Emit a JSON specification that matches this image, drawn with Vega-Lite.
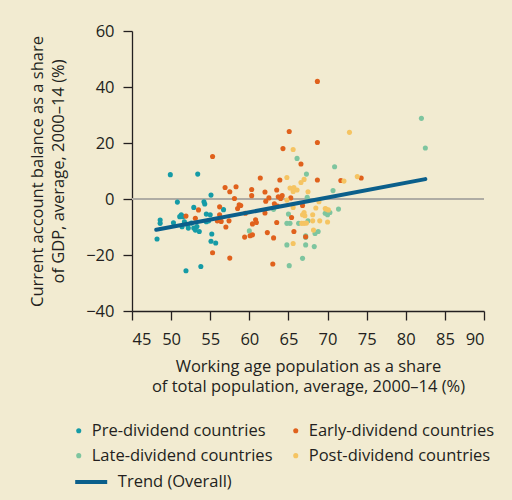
{
  "$schema": "https://vega.github.io/schema/vega-lite/v6.json",
  "width": 352,
  "height": 280,
  "autosize": {"type": "none"},
  "padding": {"left": 132, "top": 31, "right": 28, "bottom": 189},
  "background": "#f2ebd1",
  "config": {
    "view": {"stroke": null},
    "font": "Open Sans",
    "axis": {
      "domainColor": "#231f20", "tickColor": "#231f20", "domainWidth": 1.3, "tickWidth": 1.3,
      "tickSize": 9, "labelFontSize": 16.5, "labelColor": "#231f20", "titleFontSize": 16.5,
      "titleFontWeight": "normal", "titleColor": "#231f20", "grid": false, "titleLineHeight": 20.5,
      "labelOverlap": false
    },
    "legend": {"labelFontSize": 16.5, "labelColor": "#231f20", "padding": 0, "titlePadding": 0, "labelLimit": 0}
  },
  "datasets": {
    "points": [
      {"x": 49.9, "y": 8.7, "group": "Pre-dividend countries"},
      {"x": 53.4, "y": 8.9, "group": "Pre-dividend countries"},
      {"x": 50.8, "y": -1.1, "group": "Pre-dividend countries"},
      {"x": 55.1, "y": 1.4, "group": "Pre-dividend countries"},
      {"x": 54.2, "y": -1.0, "group": "Pre-dividend countries"},
      {"x": 54.3, "y": -1.8, "group": "Pre-dividend countries"},
      {"x": 52.9, "y": -3.0, "group": "Pre-dividend countries"},
      {"x": 48.6, "y": -7.5, "group": "Pre-dividend countries"},
      {"x": 48.6, "y": -8.7, "group": "Pre-dividend countries"},
      {"x": 48.2, "y": -14.3, "group": "Pre-dividend countries"},
      {"x": 50.3, "y": -8.5, "group": "Pre-dividend countries"},
      {"x": 51.3, "y": -5.6, "group": "Pre-dividend countries"},
      {"x": 51.5, "y": -6.3, "group": "Pre-dividend countries"},
      {"x": 51.1, "y": -6.3, "group": "Pre-dividend countries"},
      {"x": 51.7, "y": -8.1, "group": "Pre-dividend countries"},
      {"x": 52.1, "y": -9.2, "group": "Pre-dividend countries"},
      {"x": 52.2, "y": -10.4, "group": "Pre-dividend countries"},
      {"x": 51.4, "y": -9.9, "group": "Pre-dividend countries"},
      {"x": 52.6, "y": -8.6, "group": "Pre-dividend countries"},
      {"x": 52.9, "y": -10.4, "group": "Pre-dividend countries"},
      {"x": 53.1, "y": -11.1, "group": "Pre-dividend countries"},
      {"x": 53.6, "y": -11.6, "group": "Pre-dividend countries"},
      {"x": 53.3, "y": -9.8, "group": "Pre-dividend countries"},
      {"x": 54.5, "y": -5.4, "group": "Pre-dividend countries"},
      {"x": 55.0, "y": -5.6, "group": "Pre-dividend countries"},
      {"x": 54.8, "y": -7.8, "group": "Pre-dividend countries"},
      {"x": 54.5, "y": -8.1, "group": "Pre-dividend countries"},
      {"x": 55.2, "y": -12.5, "group": "Pre-dividend countries"},
      {"x": 55.1, "y": -15.1, "group": "Pre-dividend countries"},
      {"x": 55.7, "y": -15.7, "group": "Pre-dividend countries"},
      {"x": 51.9, "y": -25.6, "group": "Pre-dividend countries"},
      {"x": 53.8, "y": -24.1, "group": "Pre-dividend countries"},
      {"x": 56.7, "y": -3.8, "group": "Pre-dividend countries"},
      {"x": 60.0, "y": -11.4, "group": "Late-dividend countries"},
      {"x": 63.1, "y": -3.7, "group": "Late-dividend countries"},
      {"x": 66.1, "y": 14.5, "group": "Late-dividend countries"},
      {"x": 67.3, "y": 8.9, "group": "Late-dividend countries"},
      {"x": 70.9, "y": 11.5, "group": "Late-dividend countries"},
      {"x": 70.7, "y": 3.0, "group": "Late-dividend countries"},
      {"x": 71.4, "y": -3.6, "group": "Late-dividend countries"},
      {"x": 67.4, "y": 0.6, "group": "Late-dividend countries"},
      {"x": 65.0, "y": -5.4, "group": "Late-dividend countries"},
      {"x": 65.2, "y": -8.7, "group": "Late-dividend countries"},
      {"x": 64.8, "y": -8.7, "group": "Late-dividend countries"},
      {"x": 66.3, "y": -8.7, "group": "Late-dividend countries"},
      {"x": 67.5, "y": -7.8, "group": "Late-dividend countries"},
      {"x": 69.7, "y": -5.1, "group": "Late-dividend countries"},
      {"x": 70.0, "y": -5.6, "group": "Late-dividend countries"},
      {"x": 70.3, "y": -4.8, "group": "Late-dividend countries"},
      {"x": 68.8, "y": -11.6, "group": "Late-dividend countries"},
      {"x": 68.4, "y": -12.3, "group": "Late-dividend countries"},
      {"x": 67.2, "y": -13.1, "group": "Late-dividend countries"},
      {"x": 67.2, "y": -13.7, "group": "Late-dividend countries"},
      {"x": 64.8, "y": -16.4, "group": "Late-dividend countries"},
      {"x": 67.2, "y": -16.4, "group": "Late-dividend countries"},
      {"x": 68.3, "y": -17.0, "group": "Late-dividend countries"},
      {"x": 66.8, "y": -21.2, "group": "Late-dividend countries"},
      {"x": 65.1, "y": -23.8, "group": "Late-dividend countries"},
      {"x": 82.0, "y": 28.8, "group": "Late-dividend countries"},
      {"x": 82.5, "y": 18.2, "group": "Late-dividend countries"},
      {"x": 55.3, "y": 15.2, "group": "Early-dividend countries"},
      {"x": 51.9, "y": -6.1, "group": "Early-dividend countries"},
      {"x": 53.5, "y": -3.9, "group": "Early-dividend countries"},
      {"x": 53.1, "y": -6.9, "group": "Early-dividend countries"},
      {"x": 55.3, "y": -19.2, "group": "Early-dividend countries"},
      {"x": 57.5, "y": -21.1, "group": "Early-dividend countries"},
      {"x": 56.9, "y": 4.1, "group": "Early-dividend countries"},
      {"x": 57.5, "y": 2.6, "group": "Early-dividend countries"},
      {"x": 58.3, "y": 4.4, "group": "Early-dividend countries"},
      {"x": 58.1, "y": 0.2, "group": "Early-dividend countries"},
      {"x": 58.7, "y": -2.1, "group": "Early-dividend countries"},
      {"x": 58.5, "y": -3.4, "group": "Early-dividend countries"},
      {"x": 56.2, "y": -2.8, "group": "Early-dividend countries"},
      {"x": 56.2, "y": -5.6, "group": "Early-dividend countries"},
      {"x": 55.9, "y": -7.8, "group": "Early-dividend countries"},
      {"x": 56.4, "y": -8.0, "group": "Early-dividend countries"},
      {"x": 57.4, "y": -7.8, "group": "Early-dividend countries"},
      {"x": 57.0, "y": -10.0, "group": "Early-dividend countries"},
      {"x": 59.4, "y": -13.6, "group": "Early-dividend countries"},
      {"x": 61.4, "y": 7.5, "group": "Early-dividend countries"},
      {"x": 60.3, "y": 3.4, "group": "Early-dividend countries"},
      {"x": 60.3, "y": 1.2, "group": "Early-dividend countries"},
      {"x": 62.0, "y": 2.5, "group": "Early-dividend countries"},
      {"x": 62.5, "y": 0.4, "group": "Early-dividend countries"},
      {"x": 62.1, "y": -0.8, "group": "Early-dividend countries"},
      {"x": 63.5, "y": 3.2, "group": "Early-dividend countries"},
      {"x": 63.9, "y": 6.8, "group": "Early-dividend countries"},
      {"x": 63.2, "y": -1.7, "group": "Early-dividend countries"},
      {"x": 63.6, "y": -2.5, "group": "Early-dividend countries"},
      {"x": 62.0, "y": -5.0, "group": "Early-dividend countries"},
      {"x": 58.9, "y": -2.3, "group": "Early-dividend countries"},
      {"x": 59.5, "y": -5.1, "group": "Early-dividend countries"},
      {"x": 60.4, "y": -8.9, "group": "Early-dividend countries"},
      {"x": 60.8, "y": -7.4, "group": "Early-dividend countries"},
      {"x": 60.9, "y": -8.4, "group": "Early-dividend countries"},
      {"x": 60.4, "y": -12.8, "group": "Early-dividend countries"},
      {"x": 60.1, "y": -13.1, "group": "Early-dividend countries"},
      {"x": 63.5, "y": -8.4, "group": "Early-dividend countries"},
      {"x": 62.3, "y": -12.0, "group": "Early-dividend countries"},
      {"x": 63.1, "y": -13.9, "group": "Early-dividend countries"},
      {"x": 63.0, "y": -23.2, "group": "Early-dividend countries"},
      {"x": 68.7, "y": 42.0, "group": "Early-dividend countries"},
      {"x": 65.1, "y": 24.1, "group": "Early-dividend countries"},
      {"x": 68.7, "y": 20.2, "group": "Early-dividend countries"},
      {"x": 64.3, "y": 18.0, "group": "Early-dividend countries"},
      {"x": 66.6, "y": 12.5, "group": "Early-dividend countries"},
      {"x": 68.7, "y": 6.8, "group": "Early-dividend countries"},
      {"x": 71.7, "y": 6.6, "group": "Early-dividend countries"},
      {"x": 74.3, "y": 7.5, "group": "Early-dividend countries"},
      {"x": 64.2, "y": 1.2, "group": "Early-dividend countries"},
      {"x": 64.0, "y": 0.2, "group": "Early-dividend countries"},
      {"x": 63.7, "y": 0.8, "group": "Early-dividend countries"},
      {"x": 65.3, "y": 0.4, "group": "Early-dividend countries"},
      {"x": 66.8, "y": -2.3, "group": "Early-dividend countries"},
      {"x": 65.4, "y": -6.6, "group": "Early-dividend countries"},
      {"x": 65.7, "y": -11.6, "group": "Early-dividend countries"},
      {"x": 67.2, "y": -13.5, "group": "Early-dividend countries"},
      {"x": 65.6, "y": 17.7, "group": "Post-dividend countries"},
      {"x": 64.8, "y": 7.7, "group": "Post-dividend countries"},
      {"x": 67.0, "y": 7.0, "group": "Post-dividend countries"},
      {"x": 66.6, "y": 5.9, "group": "Post-dividend countries"},
      {"x": 65.2, "y": 3.9, "group": "Post-dividend countries"},
      {"x": 65.7, "y": 4.1, "group": "Post-dividend countries"},
      {"x": 66.1, "y": 3.2, "group": "Post-dividend countries"},
      {"x": 65.6, "y": 2.7, "group": "Post-dividend countries"},
      {"x": 67.5, "y": 2.6, "group": "Post-dividend countries"},
      {"x": 65.6, "y": -3.0, "group": "Post-dividend countries"},
      {"x": 64.8, "y": -0.4, "group": "Post-dividend countries"},
      {"x": 67.0, "y": -4.8, "group": "Post-dividend countries"},
      {"x": 66.8, "y": -5.6, "group": "Post-dividend countries"},
      {"x": 67.1, "y": -6.0, "group": "Post-dividend countries"},
      {"x": 68.1, "y": -5.6, "group": "Post-dividend countries"},
      {"x": 68.1, "y": -7.8, "group": "Post-dividend countries"},
      {"x": 68.5, "y": -3.2, "group": "Post-dividend countries"},
      {"x": 68.9, "y": -1.0, "group": "Post-dividend countries"},
      {"x": 69.7, "y": -3.4, "group": "Post-dividend countries"},
      {"x": 70.1, "y": -3.9, "group": "Post-dividend countries"},
      {"x": 69.8, "y": -3.6, "group": "Post-dividend countries"},
      {"x": 69.0, "y": -7.8, "group": "Post-dividend countries"},
      {"x": 70.0, "y": -8.2, "group": "Post-dividend countries"},
      {"x": 66.7, "y": -8.7, "group": "Post-dividend countries"},
      {"x": 67.0, "y": -8.7, "group": "Post-dividend countries"},
      {"x": 67.3, "y": -8.6, "group": "Post-dividend countries"},
      {"x": 68.2, "y": -11.1, "group": "Post-dividend countries"},
      {"x": 65.6, "y": -15.9, "group": "Post-dividend countries"},
      {"x": 72.8, "y": 23.8, "group": "Post-dividend countries"},
      {"x": 72.1, "y": 6.4, "group": "Post-dividend countries"},
      {"x": 73.8, "y": 8.0, "group": "Post-dividend countries"}
    ],
    "trend": [
      {"x": 48.1, "y": -11.0, "series": "Trend (Overall)"},
      {"x": 82.5, "y": 7.1, "series": "Trend (Overall)"}
    ],
    "zero": [{"y": 0}]
  },
  "layer": [
    {
      "data": {"name": "zero"},
      "mark": {"type": "rule", "color": "#afaca4", "strokeWidth": 2},
      "encoding": {
        "y": {"field": "y", "type": "quantitative"}
      }
    },
    {
      "data": {"name": "points"},
      "mark": {"type": "point", "filled": true, "opacity": 1, "size": 26, "shape": "circle"},
      "encoding": {
        "x": {
          "field": "x", "type": "quantitative",
          "scale": {"domain": [45, 90], "nice": false, "zero": false},
          "axis": {
            "values": [45, 50, 55, 60, 65, 70, 75, 80, 85, 90],
            "tickCount": 20,
            "labelPadding": 11,
            "title": ["Working age population as a share", "of total population, average, 2000–14 (%)"],
            "titleX": 176, "titleY": 60, "titleAlign": "center", "titleBaseline": "alphabetic"
          }
        },
        "y": {
          "field": "y", "type": "quantitative",
          "scale": {"domain": [-40, 60], "nice": false},
          "axis": {
            "values": [-40, -20, 0, 20, 40, 60],
            "tickCount": 12,
            "labelPadding": 9,
            "title": ["Current account balance as a share", "of GDP, average, 2000–14 (%)"],
            "titleX": -89.5, "titleY": 140, "titleAngle": -90, "titleAlign": "center", "titleBaseline": "alphabetic"
          }
        },
        "color": {
          "field": "group", "type": "nominal",
          "scale": {
            "domain": ["Pre-dividend countries", "Late-dividend countries", "Early-dividend countries", "Post-dividend countries"],
            "range": ["#159ba6", "#7ec59f", "#e0611c", "#f5c462"]
          },
          "legend": {
            "title": null, "orient": "none", "legendX": -61.5, "legendY": 391.4,
            "columns": 2, "columnPadding": 14, "rowPadding": 8, "gridAlign": "each",
            "symbolType": "circle", "symbolSize": 26, "labelOffset": 4.75
          }
        }
      }
    },
    {
      "data": {"name": "trend"},
      "mark": {"type": "line", "strokeWidth": 4, "strokeCap": "round"},
      "encoding": {
        "x": {"field": "x", "type": "quantitative"},
        "y": {"field": "y", "type": "quantitative"},
        "stroke": {
          "field": "series", "type": "nominal",
          "scale": {"domain": ["Trend (Overall)"], "range": ["#0b5f8b"]},
          "legend": {
            "title": null, "orient": "none", "legendX": -58.8, "legendY": 433,
            "symbolType": "stroke", "symbolSize": 1024, "symbolStrokeWidth": 4, "labelOffset": 8.6
          }
        }
      }
    }
  ]
}
